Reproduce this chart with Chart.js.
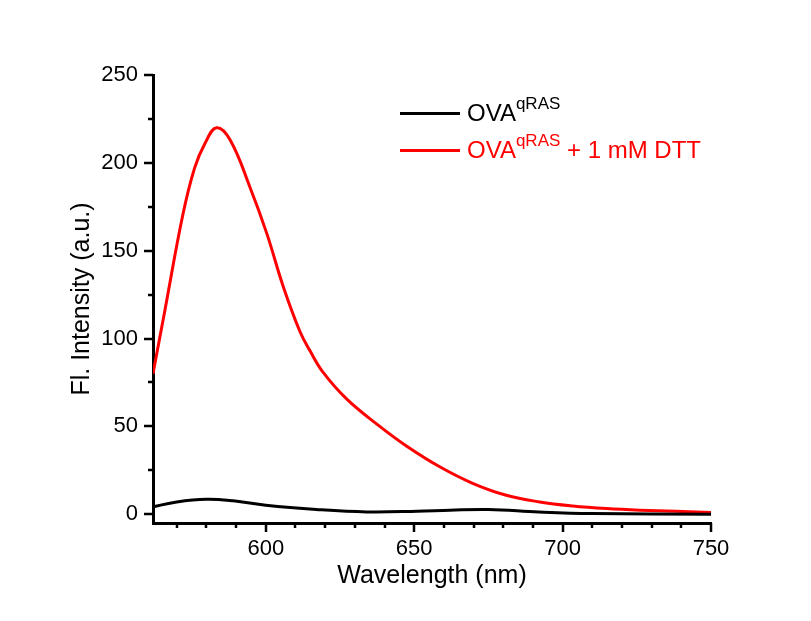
<!DOCTYPE html>
<html>
<head>
<meta charset="utf-8">
<script src="https://cdn.jsdelivr.net/npm/chart.js@4"></script>
<style>
  html, body { margin: 0; padding: 0; background: #fff; }
  #wrap { position: relative; width: 811px; height: 621px; }
  .leg { position: absolute; left: 400px; height: 30px; display: flex; align-items: center;
         font-family: Arial, "Liberation Sans", sans-serif; font-size: 24px; white-space: nowrap; }
  .leg .sw { width: 60px; height: 3px; margin-right: 7px; }
  .leg sup { font-size: 17px; vertical-align: 12px; line-height: 0; }
</style>
</head>
<body>
<div id="wrap">
  <canvas id="chart" width="811" height="621"></canvas>
  <div class="leg" style="top:98px;color:#000"><span class="sw" style="background:#000"></span><span>OVA<sup>qRAS</sup></span></div>
  <div class="leg" style="top:135px;color:#ff0000"><span class="sw" style="background:#ff0000"></span><span>OVA<sup>qRAS</sup> + 1 mM DTT</span></div>
</div>
<script>
// spectra
const dttWavelength = [562, 566, 572, 576, 579.5, 583.4, 588, 594.7, 600.3, 605.9, 611.5, 614.9, 619.2, 627.3, 638.4, 647.5, 658.6, 669.7, 681, 692.3, 703.4, 714.8, 726, 750];
const dttIntensity = [80, 116, 170, 197, 211, 220, 213, 186, 160, 129.5, 104, 93, 81, 65.5, 50, 38.7, 27, 17.6, 10.8, 7, 4.7, 3.2, 2.3, 1.0];

const ovaWavelength = [562, 570, 580, 589, 600, 617, 634, 651, 662, 675, 692, 710, 750];
const ovaIntensity = [4.2, 7, 8.5, 7.6, 5.1, 2.7, 1.3, 1.7, 2.3, 2.7, 1.3, 0.4, 0];

const xTicks = [570, 580, 590, 600, 610, 620, 630, 640, 650, 660, 670, 680, 690, 700, 710, 720, 730, 740, 750];
const yTicks = [0, 25, 50, 75, 100, 125, 150, 175, 200, 225, 250];

const font = 'Arial, "Liberation Sans", sans-serif';

function pairs(xs, ys) {
  return xs.map((x, i) => ({ x: x, y: ys[i] }));
}

// tick marks: long at labelled values, short in between
const tickMarks = {
  id: "tickMarks",
  afterDraw(chart) {
    const ctx = chart.ctx;
    const xs = chart.scales.x, ys = chart.scales.y;
    ctx.save();
    ctx.strokeStyle = "#000";
    ctx.lineWidth = 2.5;
    ctx.beginPath();
    xTicks.forEach((v) => {
      const px = Math.round(xs.getPixelForValue(v));
      const len = v % 50 === 0 ? 9 : 5;
      ctx.moveTo(px, xs.top);
      ctx.lineTo(px, xs.top + len);
    });
    yTicks.forEach((v) => {
      const py = Math.round(ys.getPixelForValue(v));
      const len = v % 50 === 0 ? 9 : 5;
      ctx.moveTo(ys.right, py);
      ctx.lineTo(ys.right - len, py);
    });
    ctx.stroke();
    ctx.restore();
  },
};

new Chart(document.getElementById("chart"), {
  type: "line",
  data: {
    datasets: [
      {
        label: "OVA qRAS",
        data: pairs(ovaWavelength, ovaIntensity),
        borderColor: "#000000",
        borderWidth: 3,
        pointRadius: 0,
        tension: 0.4,
      },
      {
        label: "OVA qRAS + 1 mM DTT",
        data: pairs(dttWavelength, dttIntensity),
        borderColor: "#ff0000",
        borderWidth: 3,
        pointRadius: 0,
        tension: 0.4,
      },
    ],
  },
  options: {
    responsive: false,
    animation: false,
    layout: { padding: { left: 55, right: 100, top: 75, bottom: 20 } },
    plugins: { legend: { display: false }, tooltip: { enabled: false } },
    scales: {
      x: {
        type: "linear",
        min: 562,
        max: 750,
        afterBuildTicks: (s) => { s.ticks = xTicks.map((v) => ({ value: v })); },
        afterFit: (s) => { s.height = 78; },
        ticks: {
          autoSkip: false,
          maxRotation: 0,
          padding: 13,
          color: "#000",
          font: { family: font, size: 22 },
          callback: (v) => (v % 50 === 0 ? v : ""),
        },
        grid: { drawOnChartArea: false, drawTicks: false },
        border: { display: true, color: "#000", width: 3 },
        title: {
          display: true,
          text: "Wavelength (nm)",
          color: "#000",
          font: { family: font, size: 25 },
          padding: { top: 0, bottom: 10 },
        },
      },
      y: {
        min: -5,
        max: 250,
        afterBuildTicks: (s) => { s.ticks = yTicks.map((v) => ({ value: v })); },
        afterFit: (s) => { s.width = 153 - 55; },
        ticks: {
          autoSkip: false,
          padding: 15,
          color: "#000",
          font: { family: font, size: 22 },
          callback: (v) => (v % 50 === 0 ? v : ""),
        },
        grid: { drawOnChartArea: false, drawTicks: false },
        border: { display: true, color: "#000", width: 3 },
        title: {
          display: true,
          text: "Fl. Intensity (a.u.)",
          color: "#000",
          font: { family: font, size: 25 },
          padding: { top: 12, bottom: 0 },
        },
      },
    },
  },
  plugins: [tickMarks],
});
</script>
</body>
</html>
